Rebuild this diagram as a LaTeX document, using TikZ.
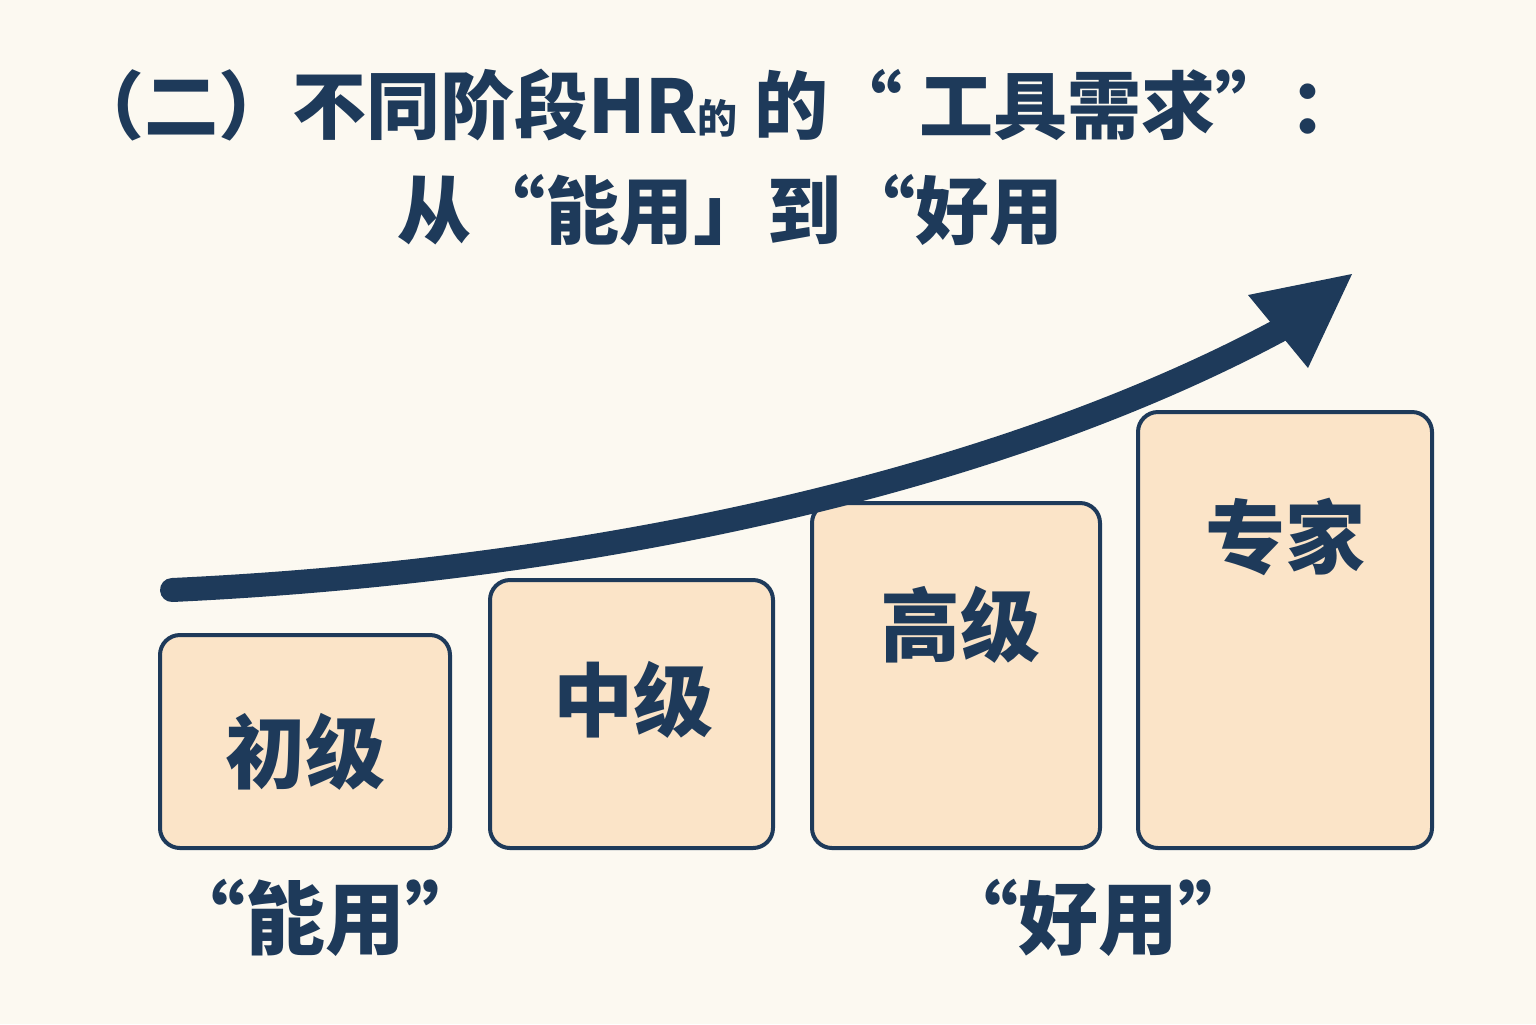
\documentclass[tikz,border=0pt]{standalone}
\usepackage{fontspec}
\newfontfamily\cjk{Noto Sans CJK SC}
\definecolor{bg}{HTML}{FCF9F1}
\definecolor{navy}{HTML}{1E3A5A}
\definecolor{boxf}{HTML}{FBE4C8}
\tikzset{lvl/.style={draw=navy,line width=2pt,fill=boxf,rounded corners=10pt},
 txt/.style={text=navy,font=\cjk\bfseries\fontsize{40}{48}\selectfont},
 ttl/.style={text=navy,font=\cjk\bfseries\fontsize{37}{44}\selectfont}}
\begin{document}
\begin{tikzpicture}[x=0.5pt,y=-0.5pt]
\fill[bg] (0,0) rectangle (1536,1024);
\useasboundingbox (0,0) rectangle (1536,1024);
\node[ttl] (t1) at (717,105) {（二）不同阶段HR{\fontsize{20}{24}\selectfont 的} 的“ 工具需求”：};
\node[ttl] (t2) at (730,210) {从“能用」到“好用};
\path[lvl] (160,635) rectangle (450,848);
\path[lvl] (490,580) rectangle (773,848);
\path[lvl] (812,503) rectangle (1100,848);
\path[lvl] (1138,412) rectangle (1432,848);
\node[txt] (a) at (305,752) {初级};
\node[txt] (b) at (633,700) {中级};
\node[txt] (c) at (960,625) {高级};
\node[txt] (d) at (1285,537) {专家};
\node[txt] (e) at (325,918) {“能用”};
\node[txt] (f) at (1098,918) {“好用”};
\coordinate (s) at (172,590);
\coordinate (m) at (1280,330);
\draw[navy,line width=12pt,line cap=round] (s) .. controls (600,570) and (1000,480) .. (m);
\fill[navy] (1352,274) -- (1248,295) -- (1308,368) -- cycle;
\end{tikzpicture}
\end{document}
